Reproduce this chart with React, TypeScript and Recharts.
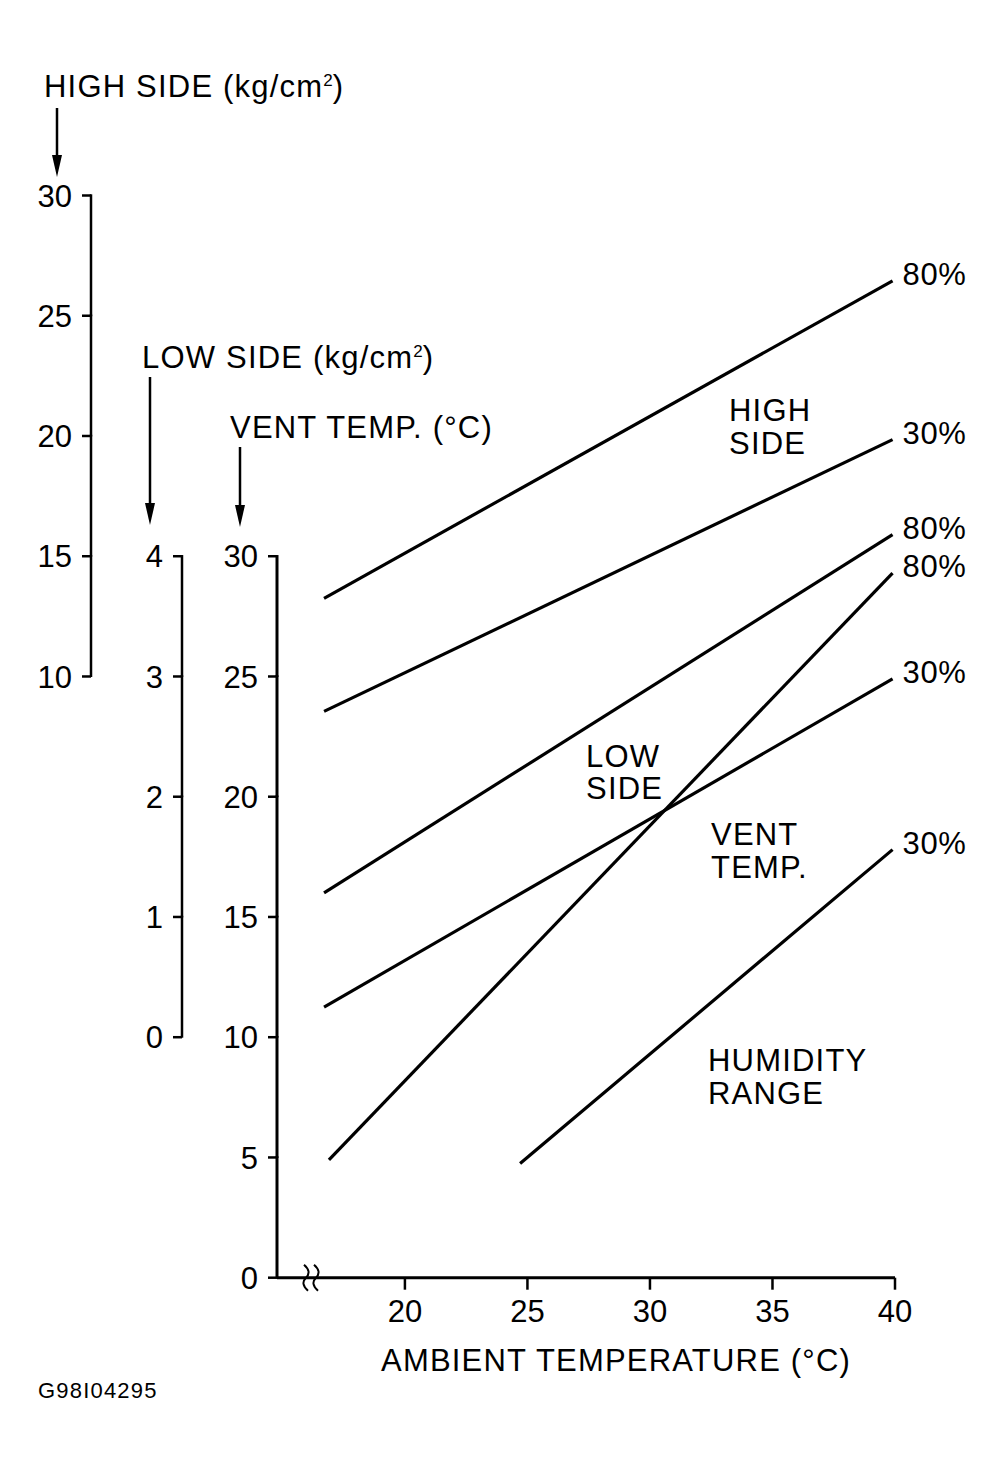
import React from "react";
import { ComposedChart, Line, XAxis, YAxis } from "recharts";

// ambient temperature (°C) at the two ends of each line
const highX = [16.7, 39.9];
const lowX = [16.7, 39.9];
const ventHiX = [16.9, 39.9];
const ventLoX = [24.7, 39.9];

// high side pressure (kg/cm2)
const high80 = [13.25, 26.45];
const high30 = [8.55, 19.85];
// low side pressure (kg/cm2)
const low80 = [1.2, 4.18];
const low30 = [0.25, 2.98];
// vent temperature (°C)
const vent80 = [4.9, 29.3];
const vent30 = [4.75, 17.8];

const xTicks = [20, 25, 30, 35, 40];
const ventTicks = [0, 5, 10, 15, 20, 25, 30];
const lowTicks = [0, 1, 2, 3, 4];
const highTicks = [10, 15, 20, 25, 30];

const W = 1003;
const H = 1472;
const FONT = "'Liberation Sans', Arial, Helvetica, sans-serif";
const TOP = 195.5;
const AXIS_Y = 1277.7;
const PLOT_H = AXIS_Y - TOP;
const STEP = (PLOT_H / 45) * 5; // one tick step, same on all three axes
const TICK_SIZE = 9;
const TICK_MARGIN = 10;

// left y axes are laid out by id: first id sits next to the plot
const VENT = "a-vent";
const LOW = "b-low";
const HIGH = "c-high";

const pairs = (xs: number[], ys: number[]) => xs.map((t, i) => ({ t, v: ys[i] }));

const makeTick = (bottom: number, sw: number) => (props: any) => {
  const { x, y, payload } = props;
  const ax = x + TICK_MARGIN + TICK_SIZE;
  return (
    <g>
      <text x={x} y={y} dy="0.36em" textAnchor="end" fontSize={31} fill="#000">
        {payload.value}
      </text>
      <line x1={x + TICK_MARGIN} x2={ax} y1={y} y2={y} stroke="#000" strokeWidth={2.5} />
      {payload.value !== bottom && (
        <line x1={ax} x2={ax} y1={y - 1.2} y2={y + STEP + 0.5} stroke="#000" strokeWidth={sw} />
      )}
    </g>
  );
};

const pctLabel = (text: string, last: number) => (props: any) => {
  const { x, y, index } = props;
  if (index !== last) return null;
  return (
    <text x={x + 10} y={y + 4} fontSize={31} letterSpacing={0.6} fill="#000">
      {text}
    </text>
  );
};

const lbl = { fontSize: 31, letterSpacing: 1.2, fill: "#000" };

function Arrow({ x, y1, y2 }: { x: number; y1: number; y2: number }) {
  return (
    <g>
      <line x1={x} x2={x} y1={y1} y2={y2 - 12} stroke="#000" strokeWidth={2.5} />
      <path d={`M${x - 5},${y2 - 22} L${x + 5},${y2 - 22} L${x},${y2} Z`} fill="#000" />
    </g>
  );
}

function Sup({ text, unit }: { text: string; unit: string }) {
  return (
    <>
      {text}
      <tspan fontSize={17} dy={-11} letterSpacing={0}>
        {unit}
      </tspan>
      <tspan dy={11}>)</tspan>
    </>
  );
}

export default function App() {
  const series = [
    { key: "h80", axis: HIGH, data: pairs(highX, high80), label: "80%" },
    { key: "h30", axis: HIGH, data: pairs(highX, high30), label: "30%" },
    { key: "l80", axis: LOW, data: pairs(lowX, low80), label: "80%" },
    { key: "l30", axis: LOW, data: pairs(lowX, low30), label: "30%" },
    { key: "v80", axis: VENT, data: pairs(ventHiX, vent80), label: "80%" },
    { key: "v30", axis: VENT, data: pairs(ventLoX, vent30), label: "30%" },
  ];

  return (
    <div
      style={{
        position: "absolute",
        left: 0,
        top: 0,
        width: W,
        height: H,
        background: "#fff",
        fontFamily: FONT,
      }}
    >
      <ComposedChart
        width={W}
        height={H}
        margin={{ top: TOP, right: W - 895, bottom: H - AXIS_Y - 60, left: 0 }}
      >
        <XAxis
          type="number"
          dataKey="t"
          domain={[14.78, 40]}
          ticks={xTicks}
          interval={0}
          height={60}
          tickSize={12}
          tickMargin={10}
          stroke="#000"
          axisLine={{ stroke: "#000", strokeWidth: 3 }}
          tickLine={{ stroke: "#000", strokeWidth: 2.5 }}
          tick={{ fill: "#000", fontSize: 31 }}
        />
        <YAxis
          yAxisId={VENT}
          type="number"
          domain={[0, 45]}
          ticks={ventTicks}
          interval={0}
          width={95}
          tickSize={TICK_SIZE}
          tickMargin={TICK_MARGIN}
          axisLine={false}
          tickLine={false}
          tick={makeTick(0, 3)}
        />
        <YAxis
          yAxisId={LOW}
          type="number"
          domain={[-2, 7]}
          ticks={lowTicks}
          interval={0}
          width={91}
          tickSize={TICK_SIZE}
          tickMargin={TICK_MARGIN}
          axisLine={false}
          tickLine={false}
          tick={makeTick(0, 2.5)}
        />
        <YAxis
          yAxisId={HIGH}
          type="number"
          domain={[-15, 30]}
          ticks={highTicks}
          interval={0}
          width={91}
          tickSize={TICK_SIZE}
          tickMargin={TICK_MARGIN}
          axisLine={false}
          tickLine={false}
          tick={makeTick(10, 2.5)}
        />
        {series.map((s) => (
          <Line
            key={s.key}
            yAxisId={s.axis}
            data={s.data}
            dataKey="v"
            type="linear"
            stroke="#000"
            strokeWidth={3.2}
            dot={false}
            activeDot={false}
            isAnimationActive={false}
            label={pctLabel(s.label, s.data.length - 1)}
          />
        ))}
      </ComposedChart>

      <svg
        width={W}
        height={H}
        style={{ position: "absolute", left: 0, top: 0, pointerEvents: "none" }}
        fontFamily={FONT}
      >
        <text x={44} y={97} {...lbl}>
          <Sup text="HIGH SIDE (kg/cm" unit="2" />
        </text>
        <Arrow x={57} y1={108} y2={177} />
        <text x={142} y={368} {...lbl}>
          <Sup text="LOW SIDE (kg/cm" unit="2" />
        </text>
        <Arrow x={150} y1={377} y2={525} />
        <text x={230} y={438} {...lbl}>
          VENT TEMP. (°C)
        </text>
        <Arrow x={240} y1={447} y2={527} />

        <text x={729} y={421} {...lbl}>HIGH</text>
        <text x={729} y={454} {...lbl}>SIDE</text>
        <text x={586} y={767} {...lbl}>LOW</text>
        <text x={586} y={799} {...lbl}>SIDE</text>
        <text x={711} y={845} {...lbl}>VENT</text>
        <text x={711} y={878} {...lbl}>TEMP.</text>
        <text x={708} y={1071} {...lbl}>HUMIDITY</text>
        <text x={708} y={1104} {...lbl}>RANGE</text>

        <text x={381} y={1371} {...lbl}>
          AMBIENT TEMPERATURE (°C)
        </text>
        <text x={38} y={1398} fontSize={22} letterSpacing={1.2} fill="#000">
          G98I04295
        </text>

        {/* axis break */}
        {[306, 316].map((bx) => (
          <path
            key={bx}
            d={`M${bx - 2},${AXIS_Y - 13} Q${bx + 6},${AXIS_Y - 6} ${bx},${AXIS_Y} Q${bx - 6},${AXIS_Y + 6} ${bx + 2},${AXIS_Y + 13}`}
            fill="none"
            stroke="#000"
            strokeWidth={2}
          />
        ))}
      </svg>
    </div>
  );
}
